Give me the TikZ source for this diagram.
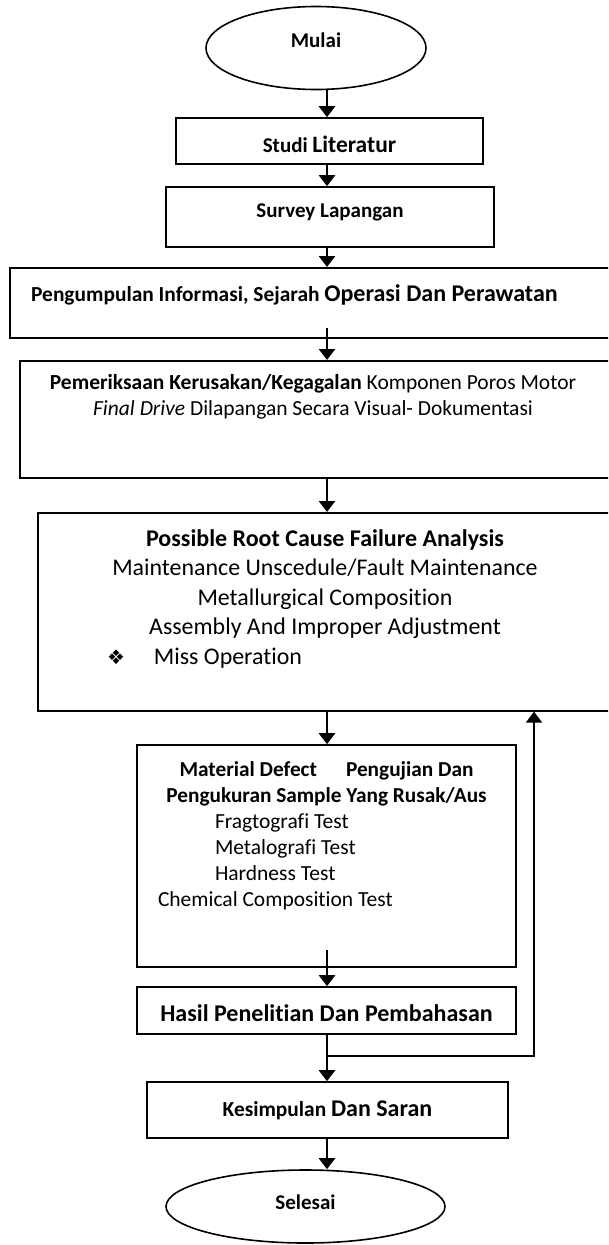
\documentclass[tikz,border=0pt]{standalone}
\usepackage{fontspec}
\setmainfont{Carlito}[Ligatures=NoCommon]
\newfontfamily\symfont{DejaVu Sans}
\usetikzlibrary{arrows.meta,shapes.geometric}

\tikzset{
  box/.style={draw, line width=1.6pt, rectangle, inner sep=0pt},
  oval/.style={draw, line width=1.6pt, ellipse, inner sep=0pt},
  txt/.style={inner sep=0pt},
  arr/.style={line width=2.6pt, -{Triangle[width=16pt,length=11pt]}},
  loopline/.style={line width=1.8pt, -{Triangle[width=16pt,length=11pt]}},
}
\newcommand{\bsmall}{\fontsize{21}{25}\selectfont\bfseries}
\newcommand{\blarge}{\fontsize{23.5}{28}\selectfont\bfseries}

\begin{document}
\begin{tikzpicture}[x=1pt,y=-1pt]
    \useasboundingbox (0,0) rectangle (608,1245);
    \clip (0,0) rectangle (608,1245);

    % Draw the start and the first steps
    \node[oval, minimum width=220pt, minimum height=83pt, text depth=16pt] (mulai) at (316,48) {\bsmall Mulai};
    \node[box, minimum width=307pt, minimum height=46pt, text height=24pt] (studi) at (329.5,141) {\bsmall Studi {\blarge Literatur}};
    \node[box, minimum width=328pt, minimum height=60pt, text depth=12pt] (survey) at (330,217) {\bsmall Survey Lapangan};

    % Draw the wide boxes (cut by the right edge)
    \node[box, anchor=north west, minimum width=700pt, minimum height=70pt] (info) at (9,267) {};
    \node[txt, anchor=base west] (infotext) at (31,301) {\fontsize{21.4}{25}\selectfont\bfseries Pengumpulan Informasi, Sejarah {\fontsize{24}{28}\selectfont Operasi Dan Perawatan}};

    \node[box, anchor=north west, minimum width=700pt, minimum height=117pt] (periksa) at (19,360) {};
    \node[txt, anchor=north, align=center, font=\fontsize{21.5}{26}\selectfont] (periksatext) at (313,374)
        {\textbf{Pemeriksaan Kerusakan/Kegagalan} Komponen Poros Motor\\ \textit{Final Drive} Dilapangan Secara Visual- Dokumentasi};

    \node[box, anchor=north west, minimum width=700pt, minimum height=198pt] (cause) at (37,512) {};
    \node[txt, anchor=north, text width=540pt, align=flush center, font=\fontsize{23.9}{29.5}\selectfont] (causetext) at (325,529)
        {{\fontsize{24}{28}\selectfont\bfseries Possible Root Cause Failure Analysis}\\
         Maintenance Unscedule/Fault Maintenance\\
         Metallurgical Composition\\
         Assembly And Improper Adjustment\\
         \makebox[\linewidth][l]{\hspace*{52pt}{\symfont\fontsize{20}{20}\selectfont ❖}\hspace*{29pt}Miss Operation}};

    % Draw the test box
    \node[box, minimum width=379pt, minimum height=222pt] (material) at (326.5,856) {};
    \node[txt, anchor=north, text width=340pt, align=flush left, font=\fontsize{21.5}{26}\selectfont] (materialtext) at (326.5,761)
        {\makebox[\linewidth]{\fontsize{21.3}{25}\selectfont\bfseries Material Defect\hspace{29pt}Pengujian Dan}\\
         \makebox[\linewidth]{\fontsize{21.3}{25}\selectfont\bfseries Pengukuran Sample Yang Rusak/Aus}\\
         \hspace*{58.5pt}Fragtografi Test\\
         \hspace*{58.5pt}Metalografi Test\\
         \hspace*{58.5pt}Hardness Test\\
         \hspace*{1.5pt}Chemical Composition Test};

    % Draw the last steps
    \node[box, minimum width=379pt, minimum height=47pt, text height=22.5pt] (hasil) at (326.5,1010.5) {\fontsize{24}{28}\selectfont\bfseries Hasil Penelitian Dan Pembahasan};
    \node[box, minimum width=361pt, minimum height=56pt] (kesimpulan) at (327.5,1110) {\fontsize{21.4}{25}\selectfont\bfseries Kesimpulan {\fontsize{24}{28}\selectfont Dan Saran}};
    \node[oval, minimum width=279pt, minimum height=73pt, text depth=9pt] (selesai) at (305.5,1206.5) {\bsmall Selesai};

    % Draw the arrows down the middle
    \coordinate (spine) at (327,0);
    \draw[arr] (mulai.south -| spine) -- (studi.north -| spine);
    \draw[arr] (studi.south -| spine) -- (survey.north -| spine);
    \draw[arr] (survey.south -| spine) -- (info.north -| spine);
    \draw[arr] (info.south -| spine) ++(0,-11) -- (periksa.north -| spine);
    \draw[arr] (periksa.south -| spine) -- (cause.north -| spine);
    \draw[arr] (cause.south -| spine) -- (material.north -| spine);
    \draw[arr] (material.south -| spine) ++(0,-18) -- (hasil.north -| spine);
    \draw[arr] (hasil.south -| spine) -- (kesimpulan.north -| spine);
    \draw[arr] (kesimpulan.south -| spine) -- (selesai.north -| spine);

    % Draw the loop back
    \coordinate (join) at (327,1056);
    \coordinate (back) at (534,1056);
    \draw[loopline] (join) -- (back) -- (cause.south -| back);
\end{tikzpicture}
\end{document}
